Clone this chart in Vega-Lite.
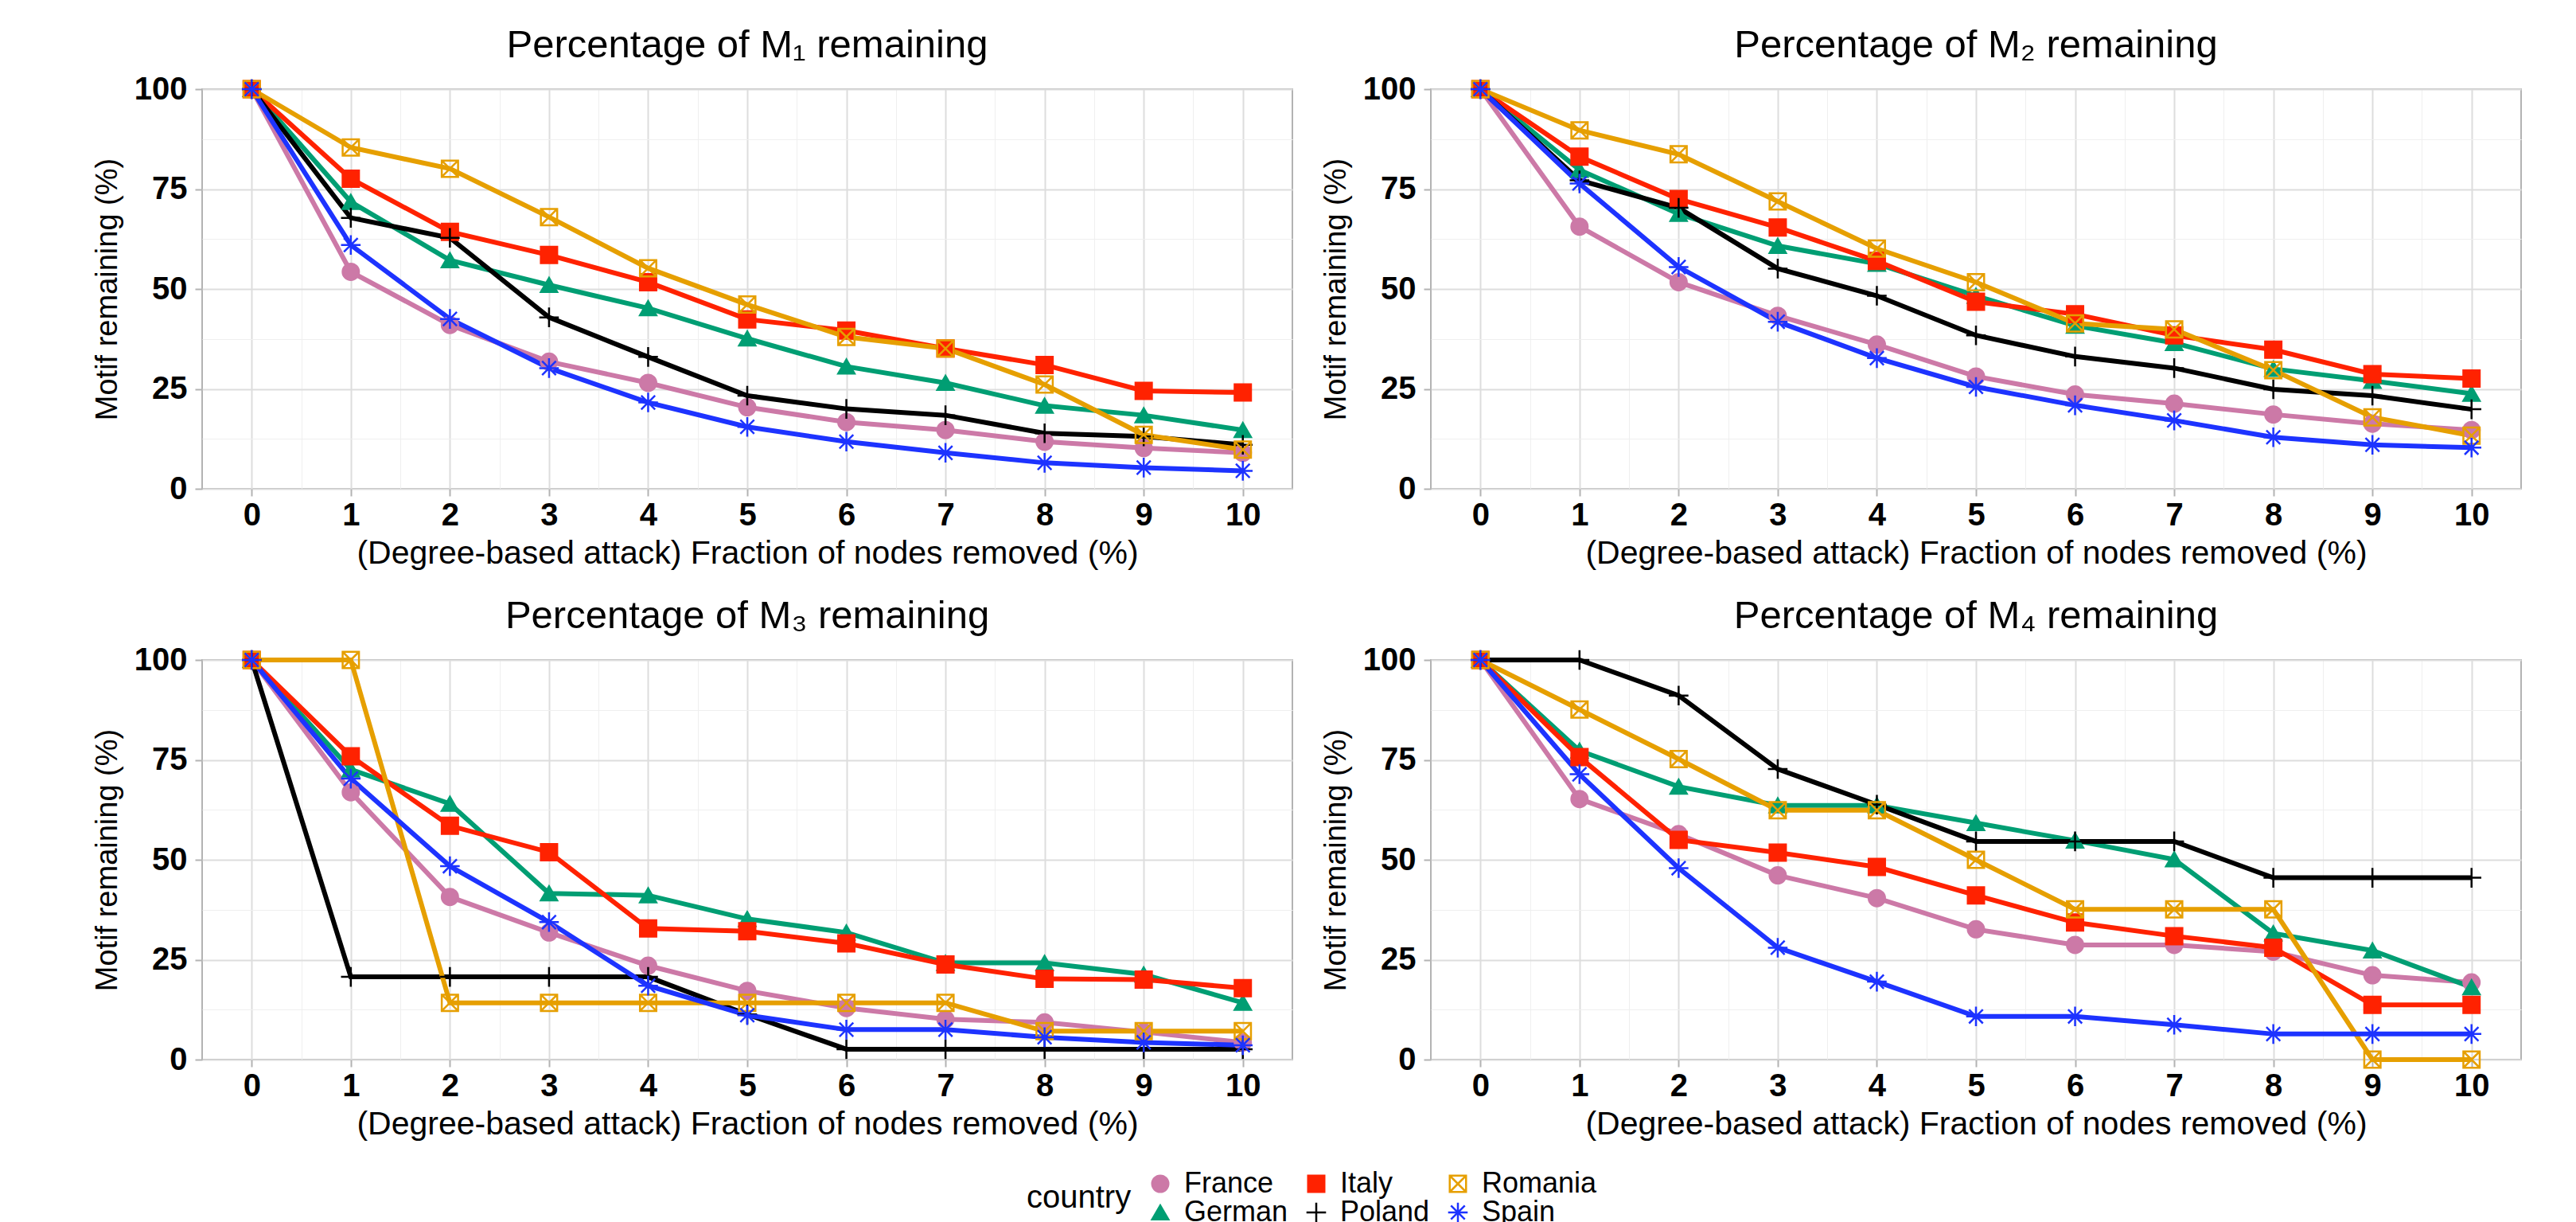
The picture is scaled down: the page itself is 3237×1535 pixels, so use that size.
{
  "$schema": "https://vega.github.io/schema/vega-lite/v6.json",
  "background": "white",
  "padding": {"left": 115, "top": 32, "right": 20, "bottom": 0},
  "config": {
    "font": "Liberation Sans",
    "view": {"stroke": "#b3b3b3", "strokeWidth": 2},
    "title": {"fontSize": 49, "fontWeight": "normal", "color": "black", "offset": 10, "anchor": "middle"},
    "axis": {
      "labelFontSize": 40, "labelFontWeight": "bold", "labelColor": "black",
      "titleFontSize": 41, "titleFontWeight": "normal", "titleColor": "black",
      "domain": false, "tickColor": "#b3b3b3", "tickSize": 9, "tickWidth": 2
    },
    "axisY": {"titleFontSize": 38},
    "legend": {
      "orient": "none", "legendX": 1036, "legendY": 1357,
      "direction": "horizontal", "columns": 3, "titleOrient": "left",
      "titleFontSize": 40, "titleFontWeight": "normal", "titleColor": "black", "titlePadding": 18,
      "labelFontSize": 36, "labelColor": "black", "labelOffset": 12,
      "symbolSize": 420, "symbolStrokeWidth": 2.5, "columnPadding": 17, "rowPadding": 0
    }
  },
  "datasets": {
    "d": [
      {"p":"M1","c":"France","x":0,"y":100},{"p":"M1","c":"France","x":1,"y":54.3},{"p":"M1","c":"France","x":2,"y":41},{"p":"M1","c":"France","x":3,"y":31.8},{"p":"M1","c":"France","x":4,"y":26.5},{"p":"M1","c":"France","x":5,"y":20.4},{"p":"M1","c":"France","x":6,"y":16.7},{"p":"M1","c":"France","x":7,"y":14.7},{"p":"M1","c":"France","x":8,"y":11.8},{"p":"M1","c":"France","x":9,"y":10.2},{"p":"M1","c":"France","x":10,"y":9},
      {"p":"M1","c":"German","x":0,"y":100},{"p":"M1","c":"German","x":1,"y":71.8},{"p":"M1","c":"German","x":2,"y":57.2},{"p":"M1","c":"German","x":3,"y":51},{"p":"M1","c":"German","x":4,"y":45.2},{"p":"M1","c":"German","x":5,"y":37.6},{"p":"M1","c":"German","x":6,"y":30.6},{"p":"M1","c":"German","x":7,"y":26.5},{"p":"M1","c":"German","x":8,"y":20.8},{"p":"M1","c":"German","x":9,"y":18.4},{"p":"M1","c":"German","x":10,"y":14.7},
      {"p":"M1","c":"Italy","x":0,"y":100},{"p":"M1","c":"Italy","x":1,"y":77.6},{"p":"M1","c":"Italy","x":2,"y":64.3},{"p":"M1","c":"Italy","x":3,"y":58.5},{"p":"M1","c":"Italy","x":4,"y":51.7},{"p":"M1","c":"Italy","x":5,"y":42.4},{"p":"M1","c":"Italy","x":6,"y":39.6},{"p":"M1","c":"Italy","x":7,"y":35.1},{"p":"M1","c":"Italy","x":8,"y":31},{"p":"M1","c":"Italy","x":9,"y":24.5},{"p":"M1","c":"Italy","x":10,"y":24.1},
      {"p":"M1","c":"Poland","x":0,"y":100},{"p":"M1","c":"Poland","x":1,"y":67.8},{"p":"M1","c":"Poland","x":2,"y":62.8},{"p":"M1","c":"Poland","x":3,"y":42.9},{"p":"M1","c":"Poland","x":4,"y":33},{"p":"M1","c":"Poland","x":5,"y":23.3},{"p":"M1","c":"Poland","x":6,"y":20},{"p":"M1","c":"Poland","x":7,"y":18.4},{"p":"M1","c":"Poland","x":8,"y":13.9},{"p":"M1","c":"Poland","x":9,"y":13.1},{"p":"M1","c":"Poland","x":10,"y":11},
      {"p":"M1","c":"Romania","x":0,"y":100},{"p":"M1","c":"Romania","x":1,"y":85.4},{"p":"M1","c":"Romania","x":2,"y":80.1},{"p":"M1","c":"Romania","x":3,"y":68},{"p":"M1","c":"Romania","x":4,"y":55.2},{"p":"M1","c":"Romania","x":5,"y":46.1},{"p":"M1","c":"Romania","x":6,"y":38},{"p":"M1","c":"Romania","x":7,"y":35.1},{"p":"M1","c":"Romania","x":8,"y":26.1},{"p":"M1","c":"Romania","x":9,"y":13.5},{"p":"M1","c":"Romania","x":10,"y":9.8},
      {"p":"M1","c":"Spain","x":0,"y":100},{"p":"M1","c":"Spain","x":1,"y":61},{"p":"M1","c":"Spain","x":2,"y":42.5},{"p":"M1","c":"Spain","x":3,"y":30.2},{"p":"M1","c":"Spain","x":4,"y":21.6},{"p":"M1","c":"Spain","x":5,"y":15.5},{"p":"M1","c":"Spain","x":6,"y":11.8},{"p":"M1","c":"Spain","x":7,"y":9},{"p":"M1","c":"Spain","x":8,"y":6.5},{"p":"M1","c":"Spain","x":9,"y":5.3},{"p":"M1","c":"Spain","x":10,"y":4.5},

      {"p":"M2","c":"France","x":0,"y":100},{"p":"M2","c":"France","x":1,"y":65.6},{"p":"M2","c":"France","x":2,"y":51.7},{"p":"M2","c":"France","x":3,"y":43.3},{"p":"M2","c":"France","x":4,"y":36.1},{"p":"M2","c":"France","x":5,"y":28.1},{"p":"M2","c":"France","x":6,"y":23.6},{"p":"M2","c":"France","x":7,"y":21.3},{"p":"M2","c":"France","x":8,"y":18.6},{"p":"M2","c":"France","x":9,"y":16.3},{"p":"M2","c":"France","x":10,"y":14.7},
      {"p":"M2","c":"German","x":0,"y":100},{"p":"M2","c":"German","x":1,"y":79.8},{"p":"M2","c":"German","x":2,"y":68.8},{"p":"M2","c":"German","x":3,"y":60.8},{"p":"M2","c":"German","x":4,"y":56.3},{"p":"M2","c":"German","x":5,"y":48.3},{"p":"M2","c":"German","x":6,"y":40.8},{"p":"M2","c":"German","x":7,"y":36.5},{"p":"M2","c":"German","x":8,"y":30},{"p":"M2","c":"German","x":9,"y":27},{"p":"M2","c":"German","x":10,"y":23.8},
      {"p":"M2","c":"Italy","x":0,"y":100},{"p":"M2","c":"Italy","x":1,"y":83.1},{"p":"M2","c":"Italy","x":2,"y":72.5},{"p":"M2","c":"Italy","x":3,"y":65.4},{"p":"M2","c":"Italy","x":4,"y":57},{"p":"M2","c":"Italy","x":5,"y":46.8},{"p":"M2","c":"Italy","x":6,"y":43.7},{"p":"M2","c":"Italy","x":7,"y":38.4},{"p":"M2","c":"Italy","x":8,"y":34.8},{"p":"M2","c":"Italy","x":9,"y":28.7},{"p":"M2","c":"Italy","x":10,"y":27.6},
      {"p":"M2","c":"Poland","x":0,"y":100},{"p":"M2","c":"Poland","x":1,"y":77.2},{"p":"M2","c":"Poland","x":2,"y":70.3},{"p":"M2","c":"Poland","x":3,"y":55.1},{"p":"M2","c":"Poland","x":4,"y":48.3},{"p":"M2","c":"Poland","x":5,"y":38.4},{"p":"M2","c":"Poland","x":6,"y":33.1},{"p":"M2","c":"Poland","x":7,"y":30.2},{"p":"M2","c":"Poland","x":8,"y":24.9},{"p":"M2","c":"Poland","x":9,"y":23.3},{"p":"M2","c":"Poland","x":10,"y":19.9},
      {"p":"M2","c":"Romania","x":0,"y":100},{"p":"M2","c":"Romania","x":1,"y":89.7},{"p":"M2","c":"Romania","x":2,"y":83.7},{"p":"M2","c":"Romania","x":3,"y":71.9},{"p":"M2","c":"Romania","x":4,"y":60.1},{"p":"M2","c":"Romania","x":5,"y":51.7},{"p":"M2","c":"Romania","x":6,"y":41.4},{"p":"M2","c":"Romania","x":7,"y":39.9},{"p":"M2","c":"Romania","x":8,"y":29.7},{"p":"M2","c":"Romania","x":9,"y":17.9},{"p":"M2","c":"Romania","x":10,"y":13.3},
      {"p":"M2","c":"Spain","x":0,"y":100},{"p":"M2","c":"Spain","x":1,"y":76.4},{"p":"M2","c":"Spain","x":2,"y":55.5},{"p":"M2","c":"Spain","x":3,"y":41.8},{"p":"M2","c":"Spain","x":4,"y":32.7},{"p":"M2","c":"Spain","x":5,"y":25.5},{"p":"M2","c":"Spain","x":6,"y":20.9},{"p":"M2","c":"Spain","x":7,"y":17.1},{"p":"M2","c":"Spain","x":8,"y":12.9},{"p":"M2","c":"Spain","x":9,"y":11},{"p":"M2","c":"Spain","x":10,"y":10.3},

      {"p":"M3","c":"France","x":0,"y":100},{"p":"M3","c":"France","x":1,"y":66.9},{"p":"M3","c":"France","x":2,"y":40.7},{"p":"M3","c":"France","x":3,"y":31.8},{"p":"M3","c":"France","x":4,"y":23.5},{"p":"M3","c":"France","x":5,"y":17.2},{"p":"M3","c":"France","x":6,"y":12.9},{"p":"M3","c":"France","x":7,"y":10.1},{"p":"M3","c":"France","x":8,"y":9.3},{"p":"M3","c":"France","x":9,"y":6.9},{"p":"M3","c":"France","x":10,"y":4.3},
      {"p":"M3","c":"German","x":0,"y":100},{"p":"M3","c":"German","x":1,"y":72.6},{"p":"M3","c":"German","x":2,"y":64},{"p":"M3","c":"German","x":3,"y":41.6},{"p":"M3","c":"German","x":4,"y":41.1},{"p":"M3","c":"German","x":5,"y":35.2},{"p":"M3","c":"German","x":6,"y":31.8},{"p":"M3","c":"German","x":7,"y":24.2},{"p":"M3","c":"German","x":8,"y":24.2},{"p":"M3","c":"German","x":9,"y":21.3},{"p":"M3","c":"German","x":10,"y":14.2},
      {"p":"M3","c":"Italy","x":0,"y":100},{"p":"M3","c":"Italy","x":1,"y":75.9},{"p":"M3","c":"Italy","x":2,"y":58.5},{"p":"M3","c":"Italy","x":3,"y":51.9},{"p":"M3","c":"Italy","x":4,"y":32.8},{"p":"M3","c":"Italy","x":5,"y":32.1},{"p":"M3","c":"Italy","x":6,"y":29.1},{"p":"M3","c":"Italy","x":7,"y":23.8},{"p":"M3","c":"Italy","x":8,"y":20.2},{"p":"M3","c":"Italy","x":9,"y":20},{"p":"M3","c":"Italy","x":10,"y":17.9},
      {"p":"M3","c":"Poland","x":0,"y":100},{"p":"M3","c":"Poland","x":1,"y":20.7},{"p":"M3","c":"Poland","x":2,"y":20.7},{"p":"M3","c":"Poland","x":3,"y":20.7},{"p":"M3","c":"Poland","x":4,"y":20.7},{"p":"M3","c":"Poland","x":5,"y":11.3},{"p":"M3","c":"Poland","x":6,"y":2.6},{"p":"M3","c":"Poland","x":7,"y":2.6},{"p":"M3","c":"Poland","x":8,"y":2.6},{"p":"M3","c":"Poland","x":9,"y":2.6},{"p":"M3","c":"Poland","x":10,"y":2.6},
      {"p":"M3","c":"Romania","x":0,"y":100},{"p":"M3","c":"Romania","x":1,"y":100},{"p":"M3","c":"Romania","x":2,"y":14.2},{"p":"M3","c":"Romania","x":3,"y":14.2},{"p":"M3","c":"Romania","x":4,"y":14.2},{"p":"M3","c":"Romania","x":5,"y":14.2},{"p":"M3","c":"Romania","x":6,"y":14.2},{"p":"M3","c":"Romania","x":7,"y":14.2},{"p":"M3","c":"Romania","x":8,"y":7.1},{"p":"M3","c":"Romania","x":9,"y":7.1},{"p":"M3","c":"Romania","x":10,"y":7.1},
      {"p":"M3","c":"Spain","x":0,"y":100},{"p":"M3","c":"Spain","x":1,"y":70.3},{"p":"M3","c":"Spain","x":2,"y":48.4},{"p":"M3","c":"Spain","x":3,"y":34.4},{"p":"M3","c":"Spain","x":4,"y":18.5},{"p":"M3","c":"Spain","x":5,"y":11.1},{"p":"M3","c":"Spain","x":6,"y":7.5},{"p":"M3","c":"Spain","x":7,"y":7.5},{"p":"M3","c":"Spain","x":8,"y":5.6},{"p":"M3","c":"Spain","x":9,"y":4.3},{"p":"M3","c":"Spain","x":10,"y":3.6},

      {"p":"M4","c":"France","x":0,"y":100},{"p":"M4","c":"France","x":1,"y":65.2},{"p":"M4","c":"France","x":2,"y":56.4},{"p":"M4","c":"France","x":3,"y":46.1},{"p":"M4","c":"France","x":4,"y":40.4},{"p":"M4","c":"France","x":5,"y":32.6},{"p":"M4","c":"France","x":6,"y":28.7},{"p":"M4","c":"France","x":7,"y":28.7},{"p":"M4","c":"France","x":8,"y":27},{"p":"M4","c":"France","x":9,"y":21.1},{"p":"M4","c":"France","x":10,"y":19.3},
      {"p":"M4","c":"German","x":0,"y":100},{"p":"M4","c":"German","x":1,"y":77.3},{"p":"M4","c":"German","x":2,"y":68.3},{"p":"M4","c":"German","x":3,"y":63.6},{"p":"M4","c":"German","x":4,"y":63.6},{"p":"M4","c":"German","x":5,"y":59.2},{"p":"M4","c":"German","x":6,"y":54.8},{"p":"M4","c":"German","x":7,"y":50.1},{"p":"M4","c":"German","x":8,"y":31.6},{"p":"M4","c":"German","x":9,"y":27.3},{"p":"M4","c":"German","x":10,"y":18.1},
      {"p":"M4","c":"Italy","x":0,"y":100},{"p":"M4","c":"Italy","x":1,"y":75.7},{"p":"M4","c":"Italy","x":2,"y":55},{"p":"M4","c":"Italy","x":3,"y":51.8},{"p":"M4","c":"Italy","x":4,"y":48.2},{"p":"M4","c":"Italy","x":5,"y":41.1},{"p":"M4","c":"Italy","x":6,"y":34.3},{"p":"M4","c":"Italy","x":7,"y":30.9},{"p":"M4","c":"Italy","x":8,"y":28},{"p":"M4","c":"Italy","x":9,"y":13.7},{"p":"M4","c":"Italy","x":10,"y":13.7},
      {"p":"M4","c":"Poland","x":0,"y":100},{"p":"M4","c":"Poland","x":1,"y":100},{"p":"M4","c":"Poland","x":2,"y":91.1},{"p":"M4","c":"Poland","x":3,"y":72.7},{"p":"M4","c":"Poland","x":4,"y":63.8},{"p":"M4","c":"Poland","x":5,"y":54.6},{"p":"M4","c":"Poland","x":6,"y":54.6},{"p":"M4","c":"Poland","x":7,"y":54.6},{"p":"M4","c":"Poland","x":8,"y":45.5},{"p":"M4","c":"Poland","x":9,"y":45.5},{"p":"M4","c":"Poland","x":10,"y":45.5},
      {"p":"M4","c":"Romania","x":0,"y":100},{"p":"M4","c":"Romania","x":1,"y":87.6},{"p":"M4","c":"Romania","x":2,"y":75.2},{"p":"M4","c":"Romania","x":3,"y":62.4},{"p":"M4","c":"Romania","x":4,"y":62.4},{"p":"M4","c":"Romania","x":5,"y":50},{"p":"M4","c":"Romania","x":6,"y":37.6},{"p":"M4","c":"Romania","x":7,"y":37.6},{"p":"M4","c":"Romania","x":8,"y":37.6},{"p":"M4","c":"Romania","x":9,"y":0},{"p":"M4","c":"Romania","x":10,"y":0},
      {"p":"M4","c":"Spain","x":0,"y":100},{"p":"M4","c":"Spain","x":1,"y":71.4},{"p":"M4","c":"Spain","x":2,"y":47.9},{"p":"M4","c":"Spain","x":3,"y":28},{"p":"M4","c":"Spain","x":4,"y":19.5},{"p":"M4","c":"Spain","x":5,"y":10.8},{"p":"M4","c":"Spain","x":6,"y":10.8},{"p":"M4","c":"Spain","x":7,"y":8.7},{"p":"M4","c":"Spain","x":8,"y":6.4},{"p":"M4","c":"Spain","x":9,"y":6.4},{"p":"M4","c":"Spain","x":10,"y":6.4}
    ]
  },
  "data": {"name": "d"},
  "columns": 2,
  "spacing": {"row": 215, "column": 174},
  "bounds": "flush",
  "concat": [
    {
      "width": 1370, "height": 502,
      "title": "Percentage of M₁ remaining",
      "transform": [{"filter": "datum.p == 'M1'"}],
      "encoding": {
        "x": {"field": "x", "type": "quantitative", "scale": {"domain": [-0.5, 10.5], "nice": false, "zero": false},
          "axis": {"title": "(Degree-based attack) Fraction of nodes removed (%)", "values": [0,0.5,1,1.5,2,2.5,3,3.5,4,4.5,5,5.5,6,6.5,7,7.5,8,8.5,9,9.5,10], "labelExpr": "datum.value % 1 === 0 ? format(datum.value, 'd') : ''", "labelPadding": 4, "titlePadding": 8,
            "gridWidth": {"condition": {"test": "datum.value % 1 !== 0", "value": 1}, "value": 2},
            "gridColor": {"condition": {"test": "datum.value % 1 !== 0", "value": "#efefef"}, "value": "#dddddd"},
            "tickOpacity": {"condition": {"test": "datum.value % 1 !== 0", "value": 0}, "value": 1}}},
        "y": {"field": "y", "type": "quantitative", "scale": {"domain": [0, 100], "nice": false},
          "axis": {"title": "Motif remaining (%)", "values": [0,12.5,25,37.5,50,62.5,75,87.5,100], "labelExpr": "datum.value % 25 === 0 ? format(datum.value, 'd') : ''", "labelPadding": 10, "titlePadding": 14,
            "gridWidth": {"condition": {"test": "datum.value % 25 !== 0", "value": 1}, "value": 2},
            "gridColor": {"condition": {"test": "datum.value % 25 !== 0", "value": "#efefef"}, "value": "#dddddd"},
            "tickOpacity": {"condition": {"test": "datum.value % 25 !== 0", "value": 0}, "value": 1}}},
        "stroke": {"field": "c", "type": "nominal", "title": "country",
          "scale": {"domain": ["France","Italy","Romania","German","Poland","Spain"], "range": ["#CC79A7","#FF2200","#E69F00","#009E73","#000000","#1D33FF"]}}
      },
      "layer": [
        {"mark": {"type": "line", "strokeWidth": 6}},
        {"mark": {"type": "point", "size": 420, "strokeWidth": 2.5, "opacity": 1},
          "encoding": {
            "fill": {"field": "c", "type": "nominal", "title": "country", "scale": {"domain": ["France","Italy","Romania","German","Poland","Spain"], "range": ["#CC79A7","#FF2200","transparent","#009E73","transparent","transparent"]}},
            "shape": {"field": "c", "type": "nominal", "title": "country", "scale": {"domain": ["France","Italy","Romania","German","Poland","Spain"], "range": ["circle","square","M-1,-1H1V1H-1ZM-1,-1L1,1M1,-1L-1,1","triangle-up","M-1.2,0H1.2M0,-1.2V1.2","M-1.2,0H1.2M0,-1.2V1.2M-0.85,-0.85L0.85,0.85M0.85,-0.85L-0.85,0.85"]}}
          }}
      ]
    },
    {
      "width": 1370, "height": 502,
      "title": "Percentage of M₂ remaining",
      "transform": [{"filter": "datum.p == 'M2'"}],
      "encoding": {
        "x": {"field": "x", "type": "quantitative", "scale": {"domain": [-0.5, 10.5], "nice": false, "zero": false},
          "axis": {"title": "(Degree-based attack) Fraction of nodes removed (%)", "values": [0,0.5,1,1.5,2,2.5,3,3.5,4,4.5,5,5.5,6,6.5,7,7.5,8,8.5,9,9.5,10], "labelExpr": "datum.value % 1 === 0 ? format(datum.value, 'd') : ''", "labelPadding": 4, "titlePadding": 8,
            "gridWidth": {"condition": {"test": "datum.value % 1 !== 0", "value": 1}, "value": 2},
            "gridColor": {"condition": {"test": "datum.value % 1 !== 0", "value": "#efefef"}, "value": "#dddddd"},
            "tickOpacity": {"condition": {"test": "datum.value % 1 !== 0", "value": 0}, "value": 1}}},
        "y": {"field": "y", "type": "quantitative", "scale": {"domain": [0, 100], "nice": false},
          "axis": {"title": "Motif remaining (%)", "values": [0,12.5,25,37.5,50,62.5,75,87.5,100], "labelExpr": "datum.value % 25 === 0 ? format(datum.value, 'd') : ''", "labelPadding": 10, "titlePadding": 14,
            "gridWidth": {"condition": {"test": "datum.value % 25 !== 0", "value": 1}, "value": 2},
            "gridColor": {"condition": {"test": "datum.value % 25 !== 0", "value": "#efefef"}, "value": "#dddddd"},
            "tickOpacity": {"condition": {"test": "datum.value % 25 !== 0", "value": 0}, "value": 1}}},
        "stroke": {"field": "c", "type": "nominal", "title": "country"}
      },
      "layer": [
        {"mark": {"type": "line", "strokeWidth": 6}},
        {"mark": {"type": "point", "size": 420, "strokeWidth": 2.5, "opacity": 1},
          "encoding": {
            "fill": {"field": "c", "type": "nominal", "title": "country"},
            "shape": {"field": "c", "type": "nominal", "title": "country"}
          }}
      ]
    },
    {
      "width": 1370, "height": 502,
      "title": "Percentage of M₃ remaining",
      "transform": [{"filter": "datum.p == 'M3'"}],
      "encoding": {
        "x": {"field": "x", "type": "quantitative", "scale": {"domain": [-0.5, 10.5], "nice": false, "zero": false},
          "axis": {"title": "(Degree-based attack) Fraction of nodes removed (%)", "values": [0,0.5,1,1.5,2,2.5,3,3.5,4,4.5,5,5.5,6,6.5,7,7.5,8,8.5,9,9.5,10], "labelExpr": "datum.value % 1 === 0 ? format(datum.value, 'd') : ''", "labelPadding": 4, "titlePadding": 8,
            "gridWidth": {"condition": {"test": "datum.value % 1 !== 0", "value": 1}, "value": 2},
            "gridColor": {"condition": {"test": "datum.value % 1 !== 0", "value": "#efefef"}, "value": "#dddddd"},
            "tickOpacity": {"condition": {"test": "datum.value % 1 !== 0", "value": 0}, "value": 1}}},
        "y": {"field": "y", "type": "quantitative", "scale": {"domain": [0, 100], "nice": false},
          "axis": {"title": "Motif remaining (%)", "values": [0,12.5,25,37.5,50,62.5,75,87.5,100], "labelExpr": "datum.value % 25 === 0 ? format(datum.value, 'd') : ''", "labelPadding": 10, "titlePadding": 14,
            "gridWidth": {"condition": {"test": "datum.value % 25 !== 0", "value": 1}, "value": 2},
            "gridColor": {"condition": {"test": "datum.value % 25 !== 0", "value": "#efefef"}, "value": "#dddddd"},
            "tickOpacity": {"condition": {"test": "datum.value % 25 !== 0", "value": 0}, "value": 1}}},
        "stroke": {"field": "c", "type": "nominal", "title": "country"}
      },
      "layer": [
        {"mark": {"type": "line", "strokeWidth": 6}},
        {"mark": {"type": "point", "size": 420, "strokeWidth": 2.5, "opacity": 1},
          "encoding": {
            "fill": {"field": "c", "type": "nominal", "title": "country"},
            "shape": {"field": "c", "type": "nominal", "title": "country"}
          }}
      ]
    },
    {
      "width": 1370, "height": 502,
      "title": "Percentage of M₄ remaining",
      "transform": [{"filter": "datum.p == 'M4'"}],
      "encoding": {
        "x": {"field": "x", "type": "quantitative", "scale": {"domain": [-0.5, 10.5], "nice": false, "zero": false},
          "axis": {"title": "(Degree-based attack) Fraction of nodes removed (%)", "values": [0,0.5,1,1.5,2,2.5,3,3.5,4,4.5,5,5.5,6,6.5,7,7.5,8,8.5,9,9.5,10], "labelExpr": "datum.value % 1 === 0 ? format(datum.value, 'd') : ''", "labelPadding": 4, "titlePadding": 8,
            "gridWidth": {"condition": {"test": "datum.value % 1 !== 0", "value": 1}, "value": 2},
            "gridColor": {"condition": {"test": "datum.value % 1 !== 0", "value": "#efefef"}, "value": "#dddddd"},
            "tickOpacity": {"condition": {"test": "datum.value % 1 !== 0", "value": 0}, "value": 1}}},
        "y": {"field": "y", "type": "quantitative", "scale": {"domain": [0, 100], "nice": false},
          "axis": {"title": "Motif remaining (%)", "values": [0,12.5,25,37.5,50,62.5,75,87.5,100], "labelExpr": "datum.value % 25 === 0 ? format(datum.value, 'd') : ''", "labelPadding": 10, "titlePadding": 14,
            "gridWidth": {"condition": {"test": "datum.value % 25 !== 0", "value": 1}, "value": 2},
            "gridColor": {"condition": {"test": "datum.value % 25 !== 0", "value": "#efefef"}, "value": "#dddddd"},
            "tickOpacity": {"condition": {"test": "datum.value % 25 !== 0", "value": 0}, "value": 1}}},
        "stroke": {"field": "c", "type": "nominal", "title": "country"}
      },
      "layer": [
        {"mark": {"type": "line", "strokeWidth": 6}},
        {"mark": {"type": "point", "size": 420, "strokeWidth": 2.5, "opacity": 1},
          "encoding": {
            "fill": {"field": "c", "type": "nominal", "title": "country"},
            "shape": {"field": "c", "type": "nominal", "title": "country"}
          }}
      ]
    }
  ]
}
